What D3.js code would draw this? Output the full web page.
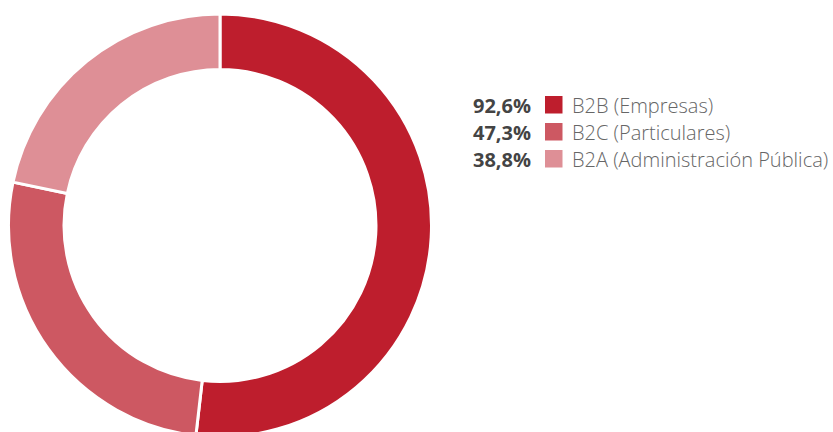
<!DOCTYPE html>
<html><head><meta charset="utf-8">
<script src="https://cdn.jsdelivr.net/npm/d3@7"></script>
<style>html,body{margin:0;padding:0;background:#fff;}svg{display:block;}</style>
</head><body>
<svg id="c" width="833" height="432"></svg>
<script>
const categories = ["B2B (Empresas)", "B2C (Particulares)", "B2A (Administración Pública)"];
const values = [92.6, 47.3, 38.8];
const valueLabels = ["92,6%", "47,3%", "38,8%"];
const colors = ["#BE1E2D", "#CD5862", "#DE8F96"];

const svg = d3.select("#c");
const cx = 220, cy = 225.5, rOuter = 211.5, rInner = 156;
const pie = d3.pie().sort(null).value(d => d)(values);
const arc = d3.arc().innerRadius(rInner).outerRadius(rOuter);
svg.append("g").attr("transform", `translate(${cx},${cy})`)
  .selectAll("path").data(pie).join("path")
  .attr("d", arc).attr("fill", (d, i) => colors[i])
  .attr("stroke", "#fff").attr("stroke-width", 3);

const y = d3.scaleBand().domain(categories).range([94, 175]).paddingInner(0);
const leg = svg.append("g");
const rows = leg.selectAll("g").data(categories).join("g")
  .attr("transform", d => `translate(0,${y(d)})`);
rows.append("text").attr("x", 531).attr("y", 19)
  .attr("text-anchor", "end").attr("font-family", "'Open Sans', sans-serif")
  .attr("font-weight", 700).attr("font-size", 20).attr("fill", "#444")
  .text((d, i) => valueLabels[i]);
rows.append("rect").attr("x", 545).attr("y", 2).attr("width", 17.5).attr("height", 17.5)
  .attr("fill", (d, i) => colors[i]);
rows.append("text").attr("x", 572).attr("y", 19)
  .attr("font-family", "'Open Sans', sans-serif").attr("font-weight", 300)
  .attr("font-size", 20).attr("fill", "#666").text(d => d);
</script>
</body></html>
